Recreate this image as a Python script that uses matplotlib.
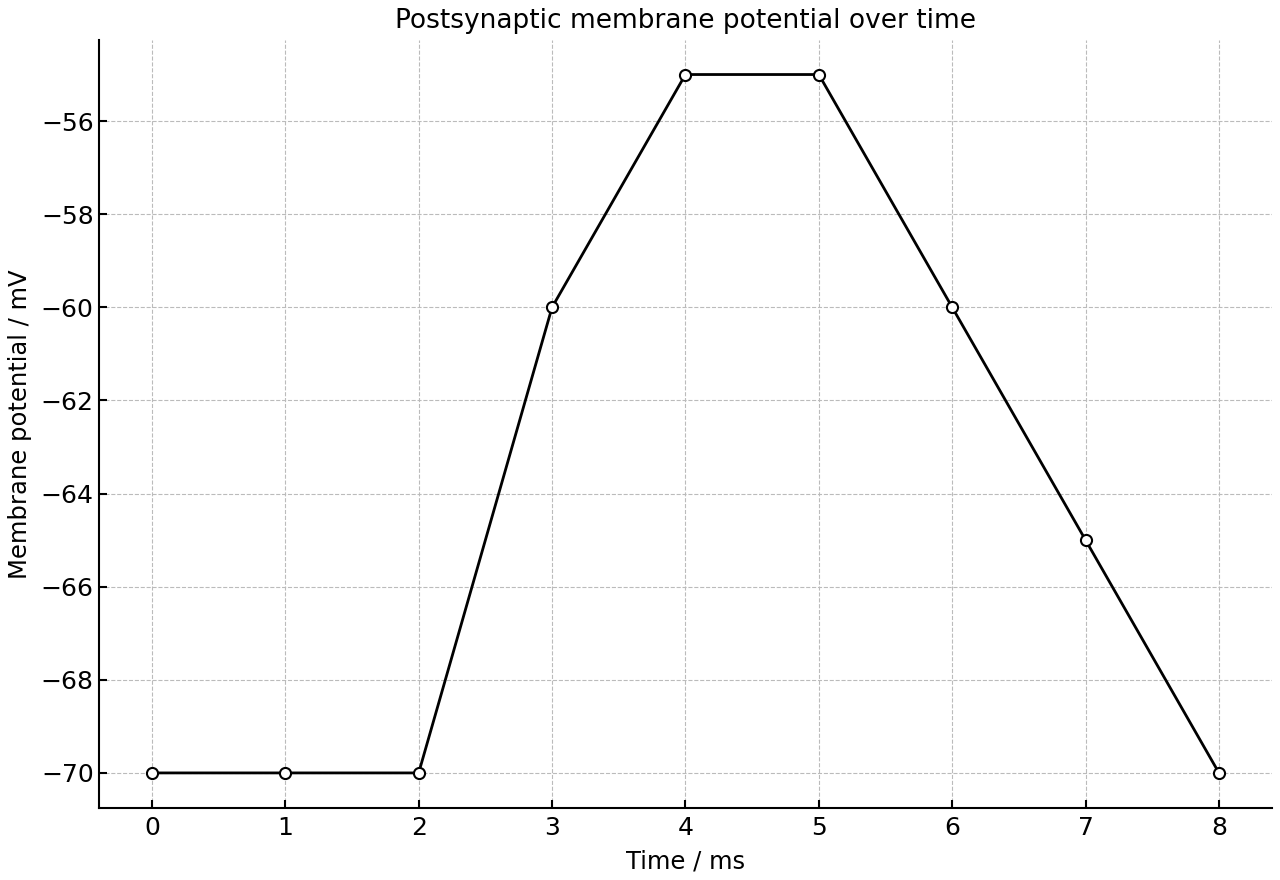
import matplotlib.pyplot as plt

time_ms = [0, 1, 2, 3, 4, 5, 6, 7, 8]
potential_mv = [-70, -70, -70, -60, -55, -55, -60, -65, -70]

fig, ax = plt.subplots(figsize=(12.8, 8.8), dpi=100)
ax.plot(time_ms, potential_mv, color="black", linewidth=2, marker="o",
        markersize=8, markerfacecolor="white", markeredgecolor="black", markeredgewidth=1.5)

ax.set_title("Postsynaptic membrane potential over time", fontsize=19, pad=8)
ax.set_xlabel("Time / ms", fontsize=17.5, labelpad=7)
ax.set_ylabel("Membrane potential / mV", fontsize=17.5, labelpad=6)
ax.tick_params(direction="in", labelsize=18, length=6, width=1.5)
ax.tick_params(axis="x", pad=6)
ax.grid(True, linestyle="--", color="#bbbbbb", linewidth=0.8)
ax.spines["top"].set_visible(False)
ax.spines["right"].set_visible(False)
ax.spines["left"].set_linewidth(1.5)
ax.spines["bottom"].set_linewidth(1.5)

fig.subplots_adjust(left=0.077, right=0.994, top=0.955, bottom=0.082)
plt.savefig("out.png", dpi=100)
